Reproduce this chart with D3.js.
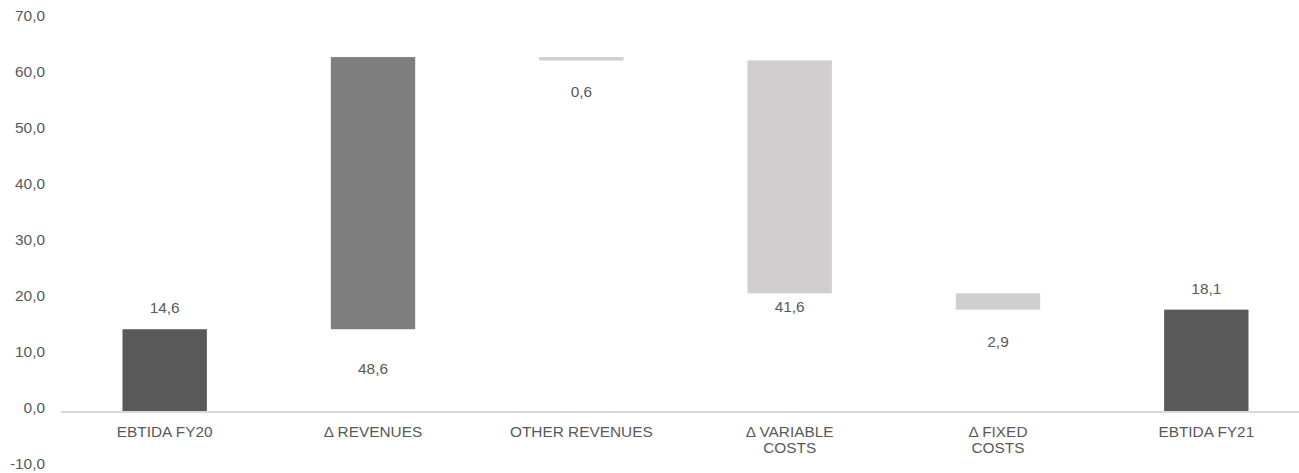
<!DOCTYPE html>
<html>
<head>
<meta charset="utf-8">
<script src="https://cdn.jsdelivr.net/npm/d3@7"></script>
<style>
  html, body { margin: 0; padding: 0; background: #ffffff; }
  svg { display: block; }
  text { font-family: "Liberation Sans", Arial, sans-serif; fill: #595959; }
</style>
</head>
<body>
<svg id="chart" width="1299" height="473"></svg>
<script>
// ---- data ----
const categories = ["EBTIDA FY20", "Δ REVENUES", "OTHER REVENUES", "Δ VARIABLE COSTS", "Δ FIXED COSTS", "EBTIDA FY21"];
const categoryLines = [["EBTIDA FY20"], ["Δ REVENUES"], ["OTHER REVENUES"], ["Δ VARIABLE", "COSTS"], ["Δ FIXED", "COSTS"], ["EBTIDA FY21"]];
const kinds = ["total", "delta", "delta", "delta", "delta", "total"];
const values = [14.6, 48.6, -0.6, -41.6, -2.9, 18.1];
const labels = ["14,6", "48,6", "0,6", "41,6", "2,9", "18,1"];
const yTicks = [-10, 0, 10, 20, 30, 40, 50, 60, 70];

// ---- layout / style ----
const colors = { total: "#595959", up: "#7f7f7f", down: "#d0cece" };
const labelDy = [-21, 40, 32, 14, 33, -20]; // label centre offset from bar edge (px)
const sx = 1.1; // horizontal text stretch seen in the reference
const fontSize = 14;

// ---- waterfall computation ----
let running = 0;
const bars = categories.map((c, i) => {
  let y0, y1, kind;
  if (kinds[i] === "total") {
    y0 = 0; y1 = values[i]; running = values[i]; kind = "total";
  } else {
    y0 = running; y1 = running + values[i]; running = y1;
    kind = values[i] >= 0 ? "up" : "down";
  }
  return { cat: c, lo: Math.min(y0, y1), hi: Math.max(y0, y1), kind, label: labels[i], i };
});

const svg = d3.select("#chart");

const y = d3.scaleLinear().domain([-10, 70]).range([467, 19]);
const x = d3.scaleBand().domain(categories).range([60, 1311]).paddingInner(0.595).paddingOuter(0.3);

const loc = d3.formatLocale({ decimal: ",", thousands: ".", grouping: [3], currency: ["", ""], minus: "-" });
const fmt = loc.format(".1f");

// y axis (labels only)
const yAxis = svg.append("g")
  .attr("transform", "translate(45,-2.5)")
  .call(d3.axisLeft(y).tickValues(yTicks).tickSize(0).tickPadding(0).tickFormat(fmt));
yAxis.select(".domain").remove();
yAxis.selectAll("text")
  .attr("font-size", fontSize)
  .attr("font-family", "Liberation Sans, Arial, sans-serif")
  .attr("fill", "#595959")
  .attr("transform", `scale(${sx},1)`);

// bars
svg.append("g").selectAll("rect").data(bars).join("rect")
  .attr("x", d => x(d.cat))
  .attr("width", x.bandwidth())
  .attr("y", d => y(d.hi))
  .attr("height", d => y(d.lo) - y(d.hi))
  .attr("fill", d => colors[d.kind]);

// x axis (baseline + category labels)
const xAxis = svg.append("g")
  .attr("transform", `translate(0,${y(0) + 0.5})`)
  .call(d3.axisBottom(x).tickSize(0).tickPadding(15.5));
xAxis.select(".domain").attr("stroke", "#d9d9d9").attr("stroke-width", 2);
xAxis.selectAll(".tick text").each(function(d) {
  const t = d3.select(this);
  const lines = categoryLines[categories.indexOf(d)];
  t.text(null)
    .attr("font-size", fontSize)
    .attr("font-family", "Liberation Sans, Arial, sans-serif")
    .attr("fill", "#595959")
    .attr("transform", `scale(${sx},1)`);
  lines.forEach((ln, k) => {
    t.append("tspan").attr("x", 0).attr("dy", k === 0 ? "0.71em" : "16px").text(ln);
  });
});

// data labels
svg.append("g").selectAll("text").data(bars).join("text")
  .attr("transform", d => {
    const cx = x(d.cat) + x.bandwidth() / 2;
    const cy = labelDy[d.i] < 0 ? y(d.hi) + labelDy[d.i] : y(d.lo) + labelDy[d.i];
    return `translate(${cx},${cy}) scale(${sx},1)`;
  })
  .attr("text-anchor", "middle")
  .attr("dominant-baseline", "central")
  .attr("font-size", fontSize)
  .text(d => d.label);
</script>
</body>
</html>
